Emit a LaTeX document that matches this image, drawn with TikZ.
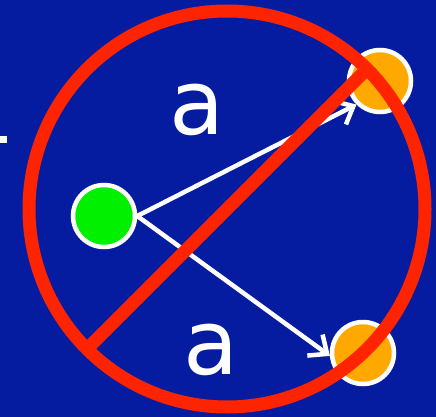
\documentclass[tikz,border=0pt]{standalone}
\usepackage{fontspec}
\setmainfont{DejaVu Sans}
\usepackage{xcolor}
\usepackage{tikz}
\usetikzlibrary{arrows.meta, calc}

\definecolor{bgblue}{RGB}{6,28,160}
\definecolor{signred}{RGB}{255,36,0}
\definecolor{dotorange}{RGB}{255,168,0}
\definecolor{dotgreen}{RGB}{0,240,0}

\begin{document}
\begin{tikzpicture}[x=1pt, y=-1pt,
	dot/.style={shape=circle, draw=white, line width=4.5pt, inner sep=0pt, minimum size=62pt},
	link/.style={draw=white, line width=4.5pt, -{Straight Barb[length=15pt, width=26pt, line width=4.5pt]}},
	label/.style={text=white, font=\fontsize{90}{90}\selectfont}]
	% Background and frame:
	\fill[bgblue] (0, 0) rectangle (436, 417);
	\useasboundingbox (0, 0) rectangle (436, 417);
	\fill[white] (0, 136) rectangle (7, 143);
	% Dots:
	\node[dot, fill=dotgreen] (src) at (104, 216){};
	\node[dot, fill=dotorange] (dstA) at (380, 81){};
	\node[dot, fill=dotorange] (dstB) at (363, 353){};
	% Links:
	\draw[link] (src.east) -- (dstA.225);
	\draw[link] (src.east) -- (dstB.185);
	\node[label] (labA) at (197, 110){a};
	\node[label] (labB) at (211, 350){a};
	% Prohibition sign:
	\coordinate (mid) at (227, 209);
	\draw[signred, line width=13pt] (mid) circle (198);
	\draw[signred, line width=13pt] ($(mid)+(-140, 140)$) -- ($(mid)+(140, -140)$);
\end{tikzpicture}
\end{document}
